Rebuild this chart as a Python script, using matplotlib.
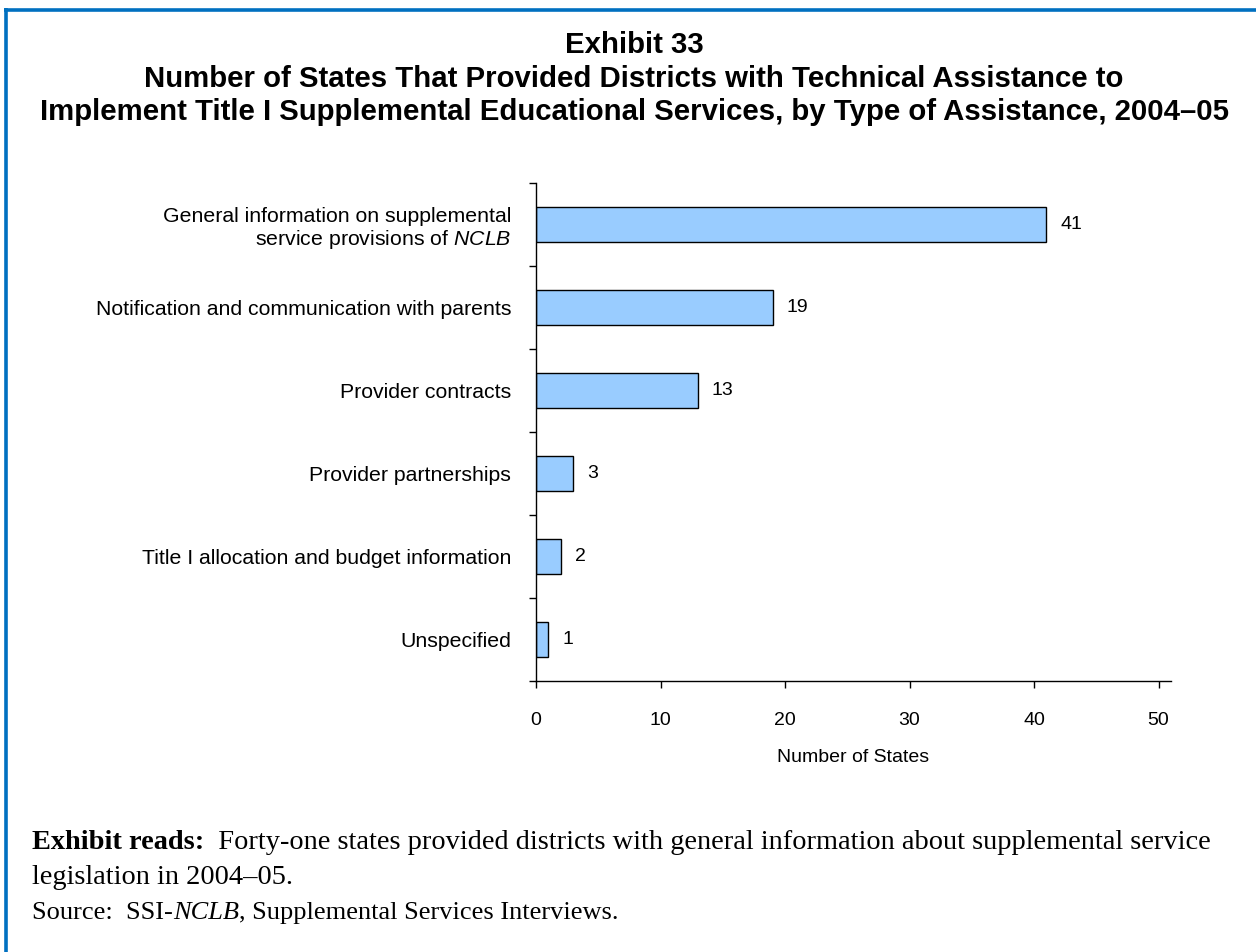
import matplotlib
matplotlib.use("Agg")
import matplotlib.pyplot as plt
from matplotlib.lines import Line2D
from matplotlib.ticker import FixedLocator, NullFormatter

plt.rcParams['font.family'] = ['Liberation Sans', 'DejaVu Sans']
plt.rcParams['mathtext.fontset'] = 'custom'
plt.rcParams['mathtext.it'] = 'Liberation Sans:italic'
plt.rcParams['mathtext.rm'] = 'Liberation Sans'

categories = [
    "General information on supplemental\nservice provisions of $\\it{NCLB}$",
    "Notification and communication with parents",
    "Provider contracts",
    "Provider partnerships",
    "Title I allocation and budget information",
    "Unspecified",
]
values = [41, 19, 13, 3, 2, 1]
x_ticks = [0, 10, 20, 30, 40, 50]

title_lines = [
    "Exhibit 33",
    "Number of States That Provided Districts with Technical Assistance to",
    "Implement Title I Supplemental Educational Services, by Type of Assistance, 2004\u201305",
]

W, H = 1256, 952
fig = plt.figure(figsize=(W / 100, H / 100), dpi=100)
fig.patch.set_facecolor("white")

# frame
blue = "#0070C0"
fig.add_artist(Line2D([4 / W, 1.0], [1 - 10 / H, 1 - 10 / H], color=blue, lw=2.6,
                      transform=fig.transFigure, solid_capstyle="butt"))
fig.add_artist(Line2D([5.7 / W, 5.7 / W], [1 - 8.3 / H, 0.0], color=blue, lw=2.6,
                      transform=fig.transFigure, solid_capstyle="butt"))

# title
ty = [45, 79, 112]
for t, y in zip(title_lines, ty):
    fig.text(634 / W, 1 - y / H, t, ha="center", va="center", fontsize=21.2,
             fontweight="bold", color="black")

ax_left, ax_right, ax_top, ax_bot = 536, 1171, 183, 681
ax = fig.add_axes([ax_left / W, 1 - ax_bot / H, (ax_right - ax_left) / W, (ax_bot - ax_top) / H])

n = len(categories)
pos = list(range(n))
ax.barh(pos, values, height=0.41, color="#99CCFF", edgecolor="black", linewidth=1.0)
ax.set_ylim(n - 0.5, -0.5)
ax.set_xlim(0, 51)

for p, v in zip(pos, values):
    ax.annotate(str(v), (v, p), xytext=(10, 0), textcoords="offset points",
                ha="left", va="center", fontsize=14)

ax.set_yticks(pos)
ax.set_yticklabels(categories, fontsize=15.3, linespacing=1.15)
ax.tick_params(axis="y", which="major", length=0, pad=18)
ax.yaxis.set_minor_locator(FixedLocator([i - 0.5 for i in range(n + 1)]))
ax.yaxis.set_minor_formatter(NullFormatter())
ax.tick_params(axis="y", which="minor", length=5, width=1.0, direction="out")

ax.set_xticks(x_ticks)
ax.set_xticklabels([str(v) for v in x_ticks], fontsize=14)
ax.tick_params(axis="x", length=5, width=1.0, direction="out", pad=17)
ax.set_xlabel("Number of States", fontsize=14, labelpad=15)

for s in ["top", "right"]:
    ax.spines[s].set_visible(False)
for s in ["left", "bottom"]:
    ax.spines[s].set_linewidth(1.0)

# footer with mixed styles
renderer = fig.canvas.get_renderer()

def rich(x_px, y_px, segments, size):
    x = x_px / W
    for txt, kw in segments:
        t = fig.text(x, 1 - y_px / H, txt, ha="left", va="baseline", fontsize=size,
                     family="Liberation Serif", **kw)
        bb = t.get_window_extent(renderer=renderer)
        x += bb.width / W

rich(32, 849, [("Exhibit reads:", {"fontweight": "bold"}),
               ("  Forty-one states provided districts with general information about supplemental service", {})],
     size=20.4)
rich(32, 884, [("legislation in 2004\u201305.", {})], size=20.4)
rich(32, 919, [("Source:  SSI-", {}), ("NCLB", {"style": "italic"}),
               (", Supplemental Services Interviews.", {})], size=19)

fig.savefig("out.png", dpi=100, facecolor="white")
